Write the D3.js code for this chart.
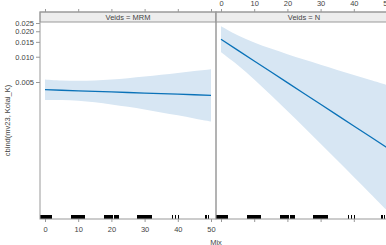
<!DOCTYPE html>
<html>
<head>
<meta charset="utf-8">
<script src="https://cdn.jsdelivr.net/npm/d3@7"></script>
<style>
  body { margin: 0; overflow: hidden; background: #fff; }
  text { font-family: "Liberation Sans", Arial, sans-serif; }
</style>
</head>
<body>
<div id="chart"></div>
<script>
// effect values (probability scale)
var mixGrid = [0, 5, 10, 15, 20, 25, 30, 35, 40, 45, 50];
var mrmFit = [0.004046, 0.003984, 0.003923, 0.003863, 0.003804, 0.003745, 0.003688, 0.003631, 0.003576, 0.003521, 0.003467];
var mrmLower = [0.003047, 0.003044, 0.00298, 0.002859, 0.0027, 0.002524, 0.002343, 0.002164, 0.001995, 0.001834, 0.001688];
var mrmUpper = [0.00537, 0.005212, 0.005163, 0.005218, 0.005357, 0.005555, 0.0058, 0.006087, 0.0064, 0.00675, 0.007108];
var nFit = [0.016081, 0.011973, 0.008904, 0.006617, 0.004915, 0.003648, 0.002708, 0.002009, 0.00149, 0.001105, 0.00082];
var nLower = [0.011285, 0.007974, 0.005352, 0.003492, 0.002247, 0.001434, 0.000911, 0.000577, 0.000365, 0.00023, 0.000145];
var nUpper = [0.022868, 0.01794, 0.014781, 0.012505, 0.010717, 0.00925, 0.00802, 0.00697, 0.006066, 0.005287, 0.004612];

// rug of observed Mix values
var rugValues = [
  -1.2, -0.9, -0.6, -0.3, 0, 0.3, 0.6, 0.9, 1.2, 1.5, 1.8, 2.0,
  8.0, 8.3, 8.6, 8.9, 9.2, 9.5, 9.8, 10.1, 10.4, 10.7, 11.0, 11.3, 11.6, 12.0,
  18.0, 18.3, 18.6, 18.9, 19.2, 19.5, 19.8, 20.1, 20.4, 21.0, 21.3, 21.6, 22.0,
  28.0, 28.3, 28.6, 29.2, 29.5, 29.8, 30.1, 30.4, 31.0, 31.3, 31.6, 32.0,
  38.4, 39.2, 40.3,
  48.5, 49.2
];

var panels = ["MRM", "N"];
var xTicks = [0, 10, 20, 30, 40, 50];
var yTicks = [0.005, 0.01, 0.015, 0.02, 0.025];

var w = 400;
var h = 245;
var panelW = 176;
var panelTop = 22;
var panelBottom = 219;
var stripTop = 12;
var left = 40;
var gray = "#999";

var logit = function (p) { return Math.log(p / (1 - p)); };
var invlogit = function (l) { return 1 / (1 + Math.exp(-l)); };

// x scale inside one panel
var x = d3.scaleLinear().domain([0, 50]).range([5, 171]);

// y on logit scale
var yLin = d3.scaleLinear()
  .domain([logit(0.025), logit(0.005)])
  .range([23, 82]);
var y = function (p) { return yLin(logit(p)); };

var svg = d3.select("#chart")
  .append("svg")
  .attr("width", w)
  .attr("height", h);

svg.append("clipPath")
  .attr("id", "clip")
  .append("rect")
  .attr("x", 0)
  .attr("y", 0)
  .attr("width", panelW)
  .attr("height", panelBottom - panelTop);

var series = {
  MRM: { fit: mrmFit, lower: mrmLower, upper: mrmUpper },
  N: { fit: nFit, lower: nLower, upper: nUpper }
};

panels.forEach(function (name, i) {
  var x0 = left + i * panelW;
  var g = svg.append("g").attr("transform", "translate(" + x0 + ",0)");
  var s = series[name];
  var rows = mixGrid.map(function (m, j) {
    return { mix: m, fit: s.fit[j], lower: s.lower[j], upper: s.upper[j] };
  });

  var plot = g.append("g")
    .attr("transform", "translate(0," + panelTop + ")")
    .attr("clip-path", "url(#clip)");

  // confidence band
  var area = d3.area()
    .curve(d3.curveCatmullRom)
    .x(function (d) { return x(d.mix); })
    .y0(function (d) { return y(d.lower) - panelTop; })
    .y1(function (d) { return y(d.upper) - panelTop; });
  plot.append("path")
    .datum(rows)
    .attr("d", area)
    .attr("fill", "#d7e6f3");

  // fitted line
  var line = d3.line()
    .x(function (d) { return x(d.mix); })
    .y(function (d) { return y(d.fit) - panelTop; });
  plot.append("path")
    .datum(rows)
    .attr("d", line)
    .attr("fill", "none")
    .attr("stroke", "#0a72b8")
    .attr("stroke-width", 1.3);

  // rug
  g.selectAll(".rug")
    .data(rugValues)
    .enter()
    .append("line")
    .attr("x1", function (d) { return x(d); })
    .attr("x2", function (d) { return x(d); })
    .attr("y1", panelBottom - 4.5)
    .attr("y2", panelBottom)
    .attr("stroke", "#000")
    .attr("stroke-width", 1.2)
    .attr("shape-rendering", "crispEdges");

  // strip
  g.append("rect")
    .attr("x", 0)
    .attr("y", stripTop)
    .attr("width", panelW)
    .attr("height", panelTop - stripTop)
    .attr("fill", "#ededed")
    .attr("stroke", gray)
    .attr("stroke-width", 1);
  g.append("text")
    .attr("x", panelW / 2)
    .attr("y", stripTop + 7.5)
    .attr("text-anchor", "middle")
    .attr("font-size", 7.5)
    .attr("fill", "#444")
    .text("Veids = " + name);

  // panel border
  g.append("rect")
    .attr("x", 0)
    .attr("y", stripTop)
    .attr("width", panelW)
    .attr("height", panelBottom - stripTop)
    .attr("fill", "none")
    .attr("stroke", gray)
    .attr("stroke-width", 1);

  // bottom axis (labels on first panel only)
  var bottom = g.append("g")
    .attr("transform", "translate(0," + panelBottom + ")")
    .call(d3.axisBottom(x).tickValues(xTicks).tickSize(3).tickPadding(5)
      .tickFormat(i === 0 ? d3.format("d") : ""));
  // top axis (labels on second panel only)
  var top = g.append("g")
    .attr("transform", "translate(0," + stripTop + ")")
    .call(d3.axisTop(x).tickValues(xTicks).tickSize(3).tickPadding(3)
      .tickFormat(i === 1 ? d3.format("d") : ""));

  [bottom, top].forEach(function (ax) {
    ax.select(".domain").remove();
    ax.selectAll("line").attr("stroke", gray);
    ax.selectAll("text")
      .attr("font-size", 7.5)
      .attr("fill", "#444")
      .style("font-family", "Liberation Sans, Arial, sans-serif");
  });
});

// y axis
var yAxis = svg.append("g")
  .attr("transform", "translate(" + left + ",0)")
  .call(d3.axisLeft(yLin)
    .tickValues(yTicks.map(logit))
    .tickSize(4)
    .tickPadding(2)
    .tickFormat(function (d) { return d3.format(".3f")(invlogit(d)); }));
yAxis.select(".domain").remove();
yAxis.selectAll("line").attr("stroke", gray);
yAxis.selectAll("text")
  .attr("font-size", 7.5)
  .attr("fill", "#444")
  .style("font-family", "Liberation Sans, Arial, sans-serif");

// axis titles
svg.append("text")
  .attr("transform", "translate(10," + (panelTop + panelBottom) / 2 + ") rotate(-90)")
  .attr("text-anchor", "middle")
  .attr("font-size", 7.5)
  .attr("fill", "#444")
  .text("cbind(mv23, Kolai_K)");

svg.append("text")
  .attr("x", left + panelW)
  .attr("y", 245)
  .attr("text-anchor", "middle")
  .attr("font-size", 7.5)
  .attr("fill", "#444")
  .text("Mix");
</script>
</body>
</html>
